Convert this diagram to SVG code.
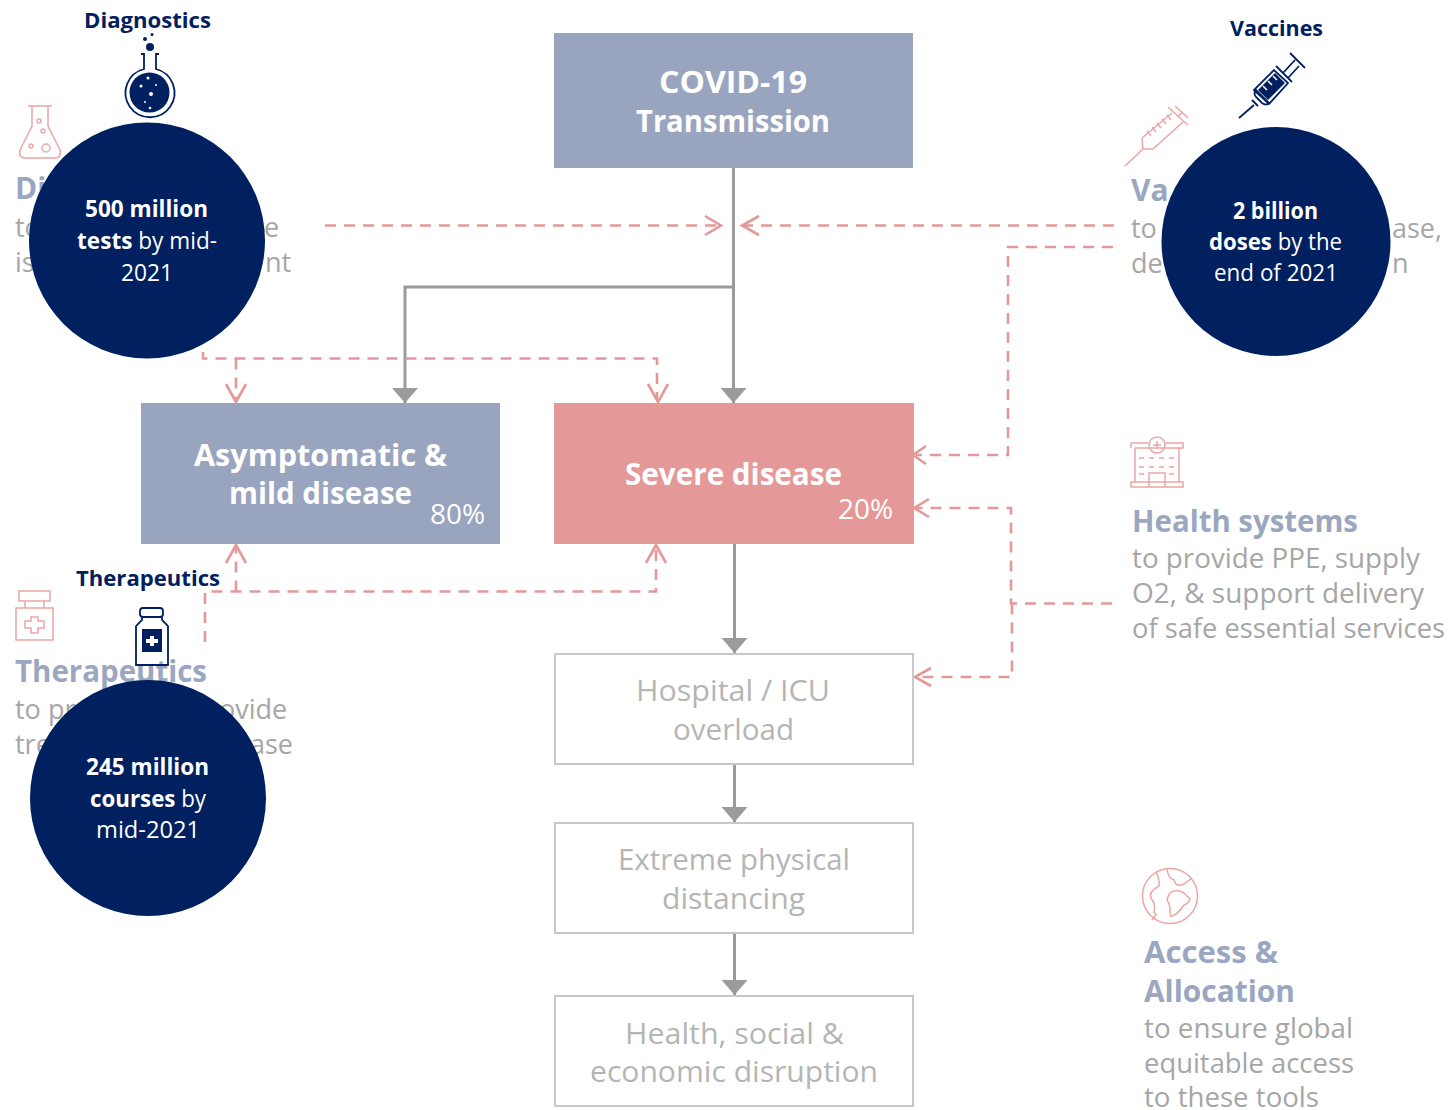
<svg xmlns="http://www.w3.org/2000/svg" width="1451" height="1110" viewBox="0 0 1451 1110">
<style>
text{font-family:"Open Sans","Noto Sans",sans-serif}
.m{text-anchor:middle}
.box{font-size:30px;font-weight:700;fill:#fff}
.pct{font-size:27px;fill:#fff}
.gb{font-size:30px;fill:#b5b5b5}
.h{font-size:30px;font-weight:700;fill:#9ba7c0}
.d{font-size:27px;fill:#a6a6a6}
.c{font-size:23.500px;fill:#fff}
.b{font-weight:700}
.n{font-size:22px;font-weight:700;fill:#002060}
.g{fill:none;stroke:#9b9b9b;stroke-width:3}
.p{fill:none;stroke:#e59898;stroke-width:2.600;stroke-dasharray:11 8}
.ah{fill:none;stroke:#e59898;stroke-width:2.600}
.ic{fill:none;stroke:#eda5a5;stroke-width:1.500}
.nv{fill:none;stroke:#002060;stroke-width:1.800}
.o{fill:#fff;stroke:#c8c8c8;stroke-width:2}
</style>
<defs>
<marker id="tri" viewBox="0 0 15 26" refX="15" refY="13" markerWidth="15" markerHeight="26" markerUnits="userSpaceOnUse" orient="auto"><path d="M0 0L15 13L0 26Z" fill="#9b9b9b"/></marker>
</defs>
<g id="side-diagnostics">
<path class="ic" d="M28 106H52M32 106V126L20 150Q18 158 26 158H54Q62 158 60 150L48 126V106"/>
<circle class="ic" cx="39" cy="121" r="2"/><circle class="ic" cx="43" cy="131" r="2"/><circle class="ic" cx="31" cy="146" r="2"/><circle class="ic" cx="46" cy="148" r="4"/>
<text class="h" x="15" y="199">Di</text>
<text class="d" x="15" y="237">to</text><text class="d" x="264" y="237">e</text>
<text class="d" x="15" y="272">is</text><text class="d" x="265" y="272">nt</text>
</g>
<g id="side-vaccines">
<path class="ic" d="M1125 166L1143 149H1153L1183 122M1143 149L1142 138L1172 113M1168 107L1188 125M1175 106L1188 118M1177 117L1183 112M1167 115L1171 120M1162 119L1166 124M1157 123L1161 128M1152 127L1156 132M1147 131L1151 136"/>
<text class="h" x="1131" y="201">Va</text>
<text class="d" x="1131" y="238">to</text><text class="d" x="1392" y="238">ase,</text>
<text class="d" x="1131" y="273">de</text><text class="d" x="1392" y="273">n</text>
</g>
<g id="side-therapeutics">
<rect class="ic" x="19" y="591" width="31" height="10"/><path class="ic" d="M25 601V608M44 601V608"/><rect class="ic" x="16" y="608" width="37" height="32"/>
<path class="ic" d="M31 617H38V621H44V628H38V633H31V628H25V621H31Z"/>
<text class="h" x="15" y="682" textLength="192" lengthAdjust="spacingAndGlyphs">Therapeutics</text>
<text class="d" x="15" y="719">to pr</text><text class="d" x="219" y="719">ovide</text>
<text class="d" x="15" y="754">tre</text><text class="d" x="250" y="754">ase</text>
</g>
<g id="side-health-systems">
<path class="ic" d="M1135 448V482M1179 448V482M1131 443H1148M1166 443H1183V448H1135M1131 443V448M1131 482H1183V487H1131ZM1149 487V473H1165V487"/>
<circle class="ic" cx="1157" cy="445" r="8"/><path class="ic" d="M1153 445H1161M1157 441V449M1139 458H1144M1149 458H1154M1159 458H1164M1169 458H1174M1139 467H1144M1149 467H1154M1159 467H1164M1169 467H1174M1139 474H1144M1169 474H1174"/>
<text class="h" x="1132" y="532" textLength="226" lengthAdjust="spacingAndGlyphs">Health systems</text>
<text class="d" x="1132" y="568" textLength="288" lengthAdjust="spacingAndGlyphs">to provide PPE, supply</text>
<text class="d" x="1132" y="603" textLength="292" lengthAdjust="spacingAndGlyphs">O2, &amp; support delivery</text>
<text class="d" x="1132" y="638" textLength="313" lengthAdjust="spacingAndGlyphs">of safe essential services</text>
</g>
<g id="side-access">
<circle class="ic" cx="1170" cy="896" r="27.500"/>
<path class="ic" d="M1156 872Q1160 880 1159 886Q1148 892 1151 898Q1156 904 1154 912L1156 915L1152 920M1167 869Q1168 878 1174 880Q1176 888 1184 884L1192 878M1170 893Q1176 888 1184 893L1190 899Q1188 904 1184 905Q1178 914 1172 916Q1170 918 1170 910Q1170 904 1167 900Q1168 896 1170 893Z"/>
<text class="h" x="1144" y="963" textLength="134" lengthAdjust="spacingAndGlyphs">Access &amp;</text>
<text class="h" x="1144" y="1002" textLength="151" lengthAdjust="spacingAndGlyphs">Allocation</text>
<text class="d" x="1144" y="1038" textLength="209" lengthAdjust="spacingAndGlyphs">to ensure global</text>
<text class="d" x="1144" y="1073" textLength="210" lengthAdjust="spacingAndGlyphs">equitable access</text>
<text class="d" x="1144" y="1107" textLength="175" lengthAdjust="spacingAndGlyphs">to these tools</text>
</g>
<g id="connectors">
<path class="g" d="M733.500 168V403" marker-end="url(#tri)"/>
<path class="g" d="M733.500 287H405V403" marker-end="url(#tri)"/>
<path class="g" d="M734.500 544V653" marker-end="url(#tri)"/>
<path class="g" d="M734.500 764V822" marker-end="url(#tri)"/>
<path class="g" d="M734.500 933V995" marker-end="url(#tri)"/>
<path class="p" d="M325 225.500H720"/><path class="ah" d="M705 216L721 225.500L705 235"/>
<path class="p" d="M1114 225.500H744"/><path class="ah" d="M759 216L742 225.500L759 235"/>
<path class="p" d="M1113 247H1008V455H916"/><path class="ah" d="M926 446L913 455L926 464"/>
<path class="p" d="M1112 603.500H1011V508H916"/><path class="ah" d="M929 499L914 508L929 517"/>
<path class="p" d="M1012 603.500V677H918"/><path class="ah" d="M931 668L915 677L931 686"/>
<path class="p" d="M203 352V358.500H657V400"/>
<path class="p" d="M236 358.500V400"/>
<path class="ah" d="M226 384L236 402L246 384"/><path class="ah" d="M648 384L658 402L668 384"/>
<path class="p" d="M205 642V591.500H656V547"/>
<path class="p" d="M236 591.500V547"/>
<path class="ah" d="M226 563L236 545L246 563"/><path class="ah" d="M646 563L656 545L666 563"/>
</g>
<g id="covid-transmission">
<rect x="554" y="33" width="359" height="135" fill="#99a5bf"/>
<text class="box" x="659" y="93" textLength="148" lengthAdjust="spacingAndGlyphs">COVID-19</text>
<text class="box" x="636" y="132" textLength="194" lengthAdjust="spacingAndGlyphs">Transmission</text>
</g>
<g id="asymptomatic">
<rect x="141" y="403" width="359" height="141" fill="#99a5bf"/>
<text class="box" x="194" y="466" textLength="253" lengthAdjust="spacingAndGlyphs">Asymptomatic &amp;</text>
<text class="box" x="229" y="504" textLength="183" lengthAdjust="spacingAndGlyphs">mild disease</text>
<text class="pct" x="430" y="524" textLength="55" lengthAdjust="spacingAndGlyphs">80%</text>
</g>
<g id="severe">
<rect x="554" y="403" width="360" height="141" fill="#e59898"/>
<text class="box" x="625" y="485" textLength="217" lengthAdjust="spacingAndGlyphs">Severe disease</text>
<text class="pct" x="838" y="519" textLength="55" lengthAdjust="spacingAndGlyphs">20%</text>
</g>
<g id="hospital">
<rect class="o" x="555" y="654" width="358" height="110"/>
<text class="gb" x="636" y="701" textLength="194" lengthAdjust="spacingAndGlyphs">Hospital / ICU</text>
<text class="gb" x="673" y="740" textLength="121" lengthAdjust="spacingAndGlyphs">overload</text>
</g>
<g id="distancing">
<rect class="o" x="555" y="823" width="358" height="110"/>
<text class="gb" x="618" y="870" textLength="232" lengthAdjust="spacingAndGlyphs">Extreme physical</text>
<text class="gb" x="662" y="909" textLength="143" lengthAdjust="spacingAndGlyphs">distancing</text>
</g>
<g id="disruption">
<rect class="o" x="555" y="996" width="358" height="110"/>
<text class="gb" x="625" y="1044" textLength="219" lengthAdjust="spacingAndGlyphs">Health, social &amp;</text>
<text class="gb" x="590" y="1082" textLength="288" lengthAdjust="spacingAndGlyphs">economic disruption</text>
</g>
<g id="diagnostics">
<text class="n" x="84" y="28" textLength="127" lengthAdjust="spacingAndGlyphs">Diagnostics</text>
<circle cx="150" cy="47" r="4" fill="#002060"/><circle cx="145" cy="39" r="2" fill="#002060"/><circle cx="152" cy="34.500" r="1.500" fill="#002060"/>
<path class="nv" d="M141 54H144V69A24.500 24.500 0 1 0 156 69V54H159"/>
<circle cx="149.500" cy="92.500" r="20" fill="#002060"/>
<g fill="#fff"><circle cx="148" cy="78" r="1.500"/><circle cx="141" cy="86" r="1.500"/><circle cx="156" cy="85" r="1"/><circle cx="151" cy="94" r="2"/><circle cx="145" cy="102" r="1"/><circle cx="150" cy="108" r="1.300"/></g>
<circle cx="147" cy="240.500" r="118" fill="#002060"/>
<text class="c" x="85" y="217" textLength="123" lengthAdjust="spacingAndGlyphs"><tspan class="b">500 million</tspan></text>
<text class="c" x="77" y="249" textLength="140" lengthAdjust="spacingAndGlyphs"><tspan class="b">tests</tspan> by mid-</text>
<text class="c" x="121" y="281" textLength="52" lengthAdjust="spacingAndGlyphs">2021</text>
</g>
<g id="vaccines">
<text class="n" x="1230" y="36" textLength="93" lengthAdjust="spacingAndGlyphs">Vaccines</text>
<path class="nv" d="M1239 118L1254 105M1252 100L1258 106M1256 97Q1253 93 1256 90L1269 103Q1266 106 1262 103ZM1254 90L1269 104L1288 83L1274 70ZM1276 66L1292 82M1283 73L1295 60M1288 78L1299 66M1290 53L1305 68"/>
<path d="M1258 90L1268 100L1285 83L1275 73Z" fill="#002060"/>
<path d="M1263 86L1267 90M1268 81L1272 85M1273 76L1277 80" stroke="#fff" stroke-width="1.500" fill="none"/>
<circle cx="1276" cy="241.500" r="114.500" fill="#002060"/>
<text class="c" x="1233" y="219" textLength="85" lengthAdjust="spacingAndGlyphs"><tspan class="b">2 billion</tspan></text>
<text class="c" x="1209" y="250" textLength="133" lengthAdjust="spacingAndGlyphs"><tspan class="b">doses</tspan> by the</text>
<text class="c" x="1214" y="281" textLength="124" lengthAdjust="spacingAndGlyphs">end of 2021</text>
</g>
<g id="therapeutics">
<text class="n" x="76" y="586" textLength="144" lengthAdjust="spacingAndGlyphs">Therapeutics</text>
<path class="nv" d="M143 608H160Q163 608 163 611V614Q163 617 160 617H143Q140 617 140 614V611Q140 608 143 608ZM142 617V620L136 626V665H168V626L162 620V617"/>
<rect x="142" y="629" width="20" height="23" fill="#002060"/>
<path d="M150 636H154V639H158V643H154V646H150V643H146V639H150Z" fill="#fff"/>
<circle cx="148" cy="798" r="118" fill="#002060"/>
<text class="c" x="86" y="775" textLength="123" lengthAdjust="spacingAndGlyphs"><tspan class="b">245 million</tspan></text>
<text class="c" x="90" y="807" textLength="116" lengthAdjust="spacingAndGlyphs"><tspan class="b">courses</tspan> by</text>
<text class="c" x="96" y="838" textLength="104" lengthAdjust="spacingAndGlyphs">mid-2021</text>
</g>
</svg>
